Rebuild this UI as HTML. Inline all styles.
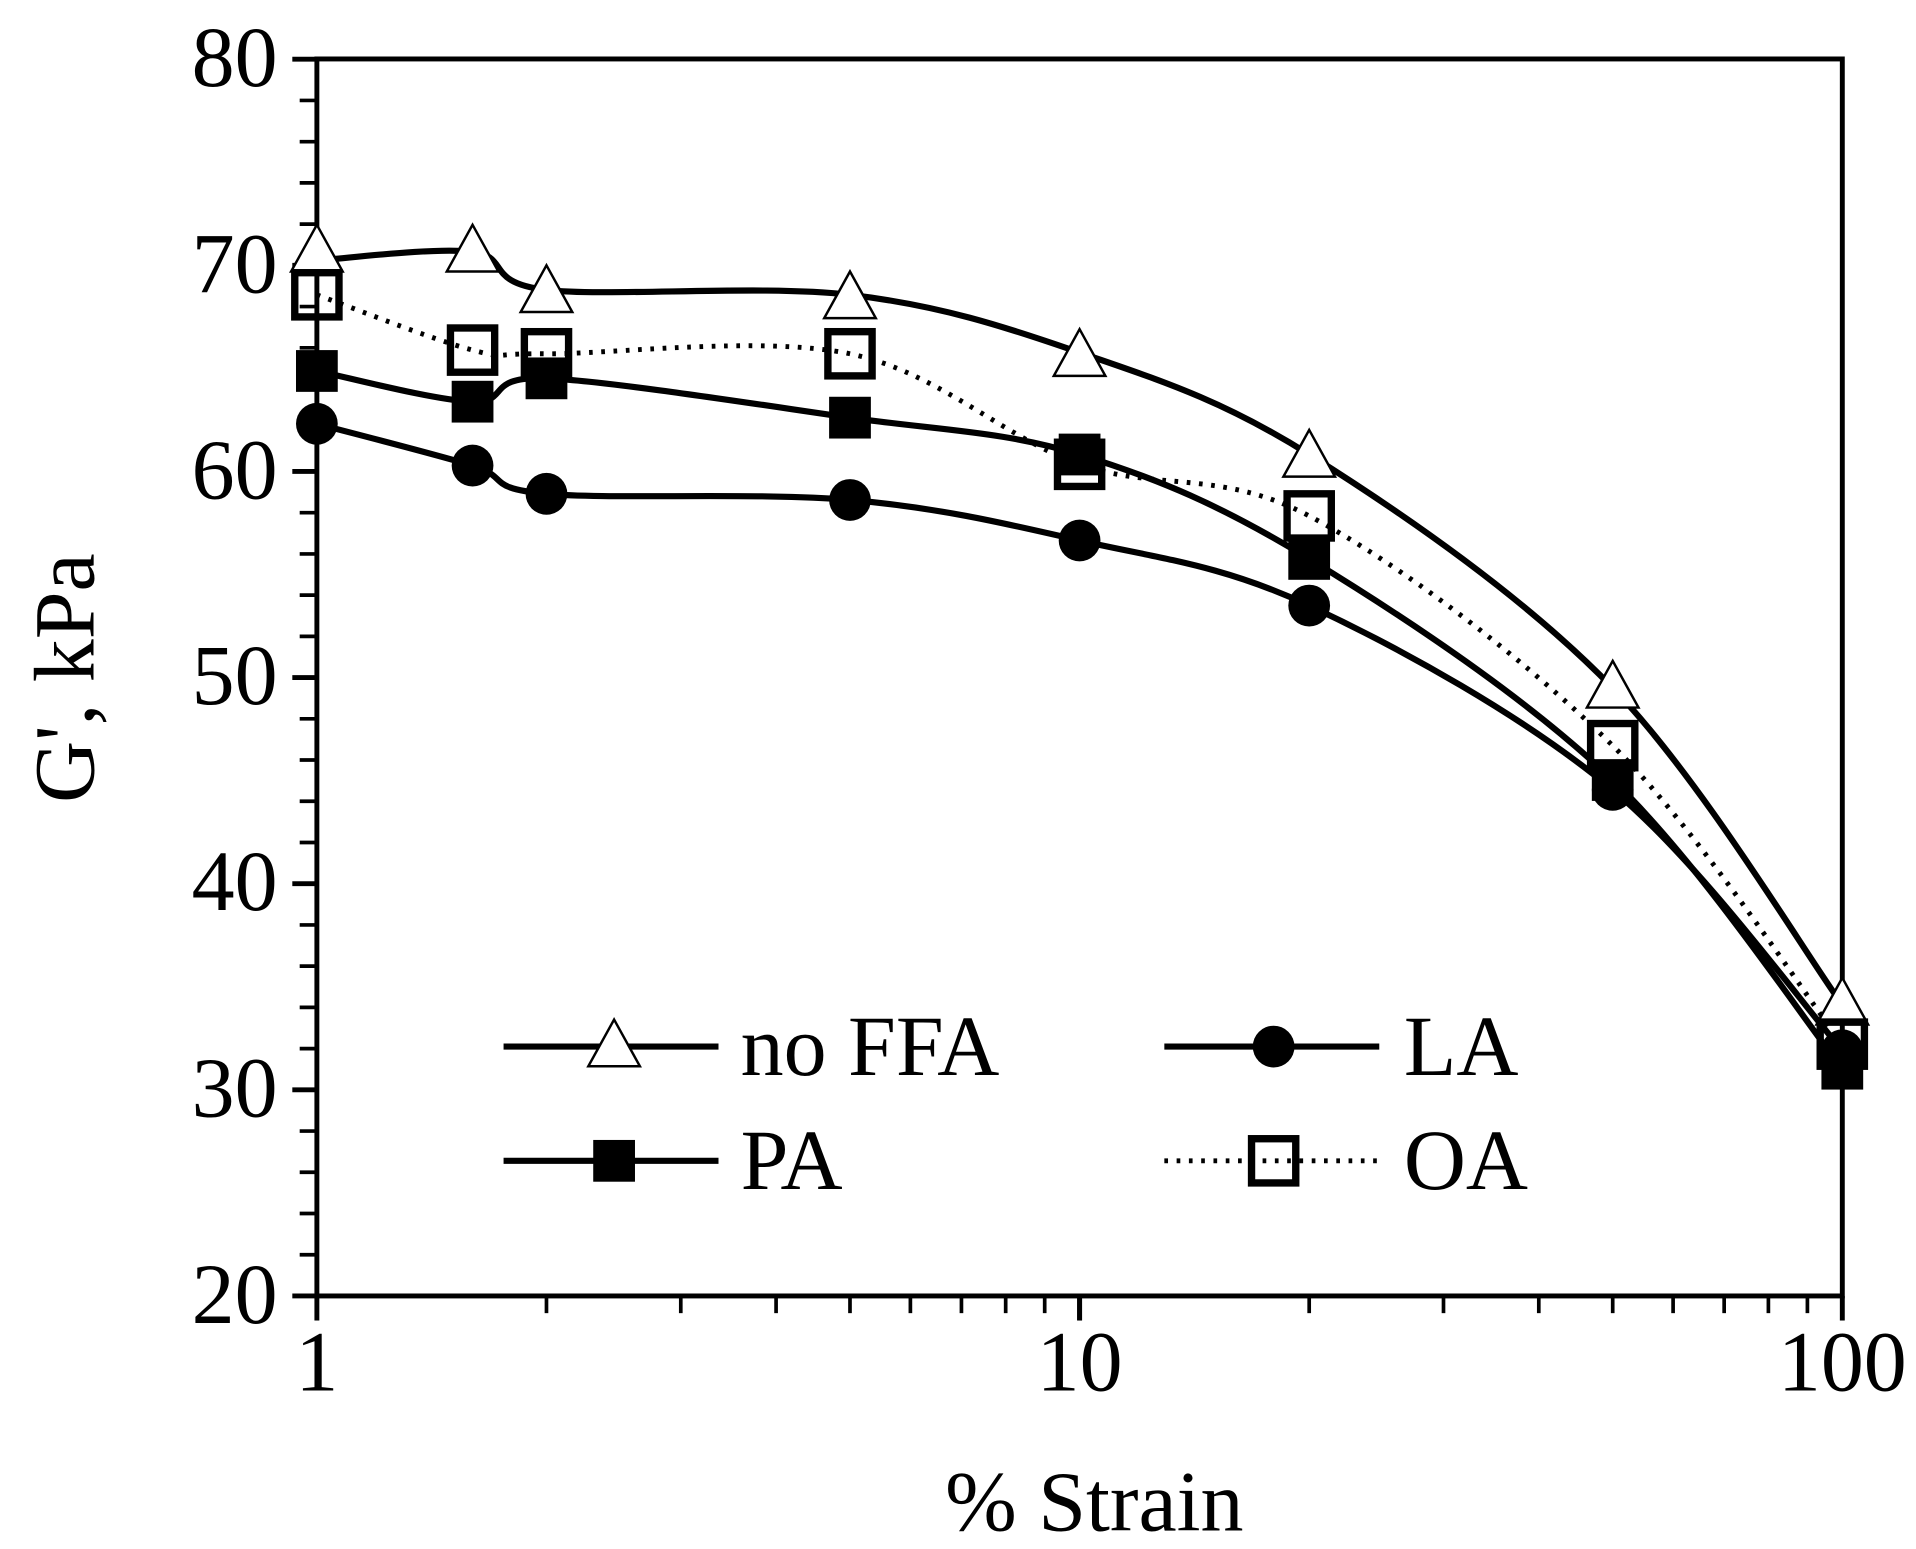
<!DOCTYPE html>
<html><head><meta charset="utf-8"><style>html,body{margin:0;padding:0;background:#fff}svg{display:block}</style></head>
<body>
<svg id="s" width="1916" height="1549" viewBox="0 0 1560 1261" preserveAspectRatio="none" xmlns="http://www.w3.org/2000/svg" style="font-family:'Liberation Serif',serif">
<rect x="0" y="0" width="1560" height="1261" fill="#fff"/>
<g id="axes" stroke="#000" fill="none"></g>
<g id="series"></g>
<g font-size="70" fill="#000" text-anchor="end">
<text x="226" y="70">80</text><text x="226" y="238">70</text><text x="226" y="406">60</text><text x="226" y="573">50</text><text x="226" y="741">40</text><text x="226" y="909">30</text><text x="226" y="1077">20</text>
</g>
<g font-size="70" fill="#000" text-anchor="middle">
<text x="258" y="1132">1</text><text x="879" y="1132">10</text><text x="1500" y="1132">100</text>
<text x="891" y="1246">% Strain</text>
<text transform="translate(76,552) rotate(-90)">G', kPa</text>
</g>
<g font-size="70" fill="#000">
<text x="603" y="875">no FFA</text><text x="1143" y="875">LA</text>
<text x="603" y="968">PA</text><text x="1143" y="968">OA</text>
</g>
</svg>
<script>
var NS="http://www.w3.org/2000/svg";
function el(p,t,a){var e=document.createElementNS(NS,t);for(var k in a)e.setAttribute(k,a[k]);p.appendChild(e);return e;}
var ax=document.getElementById('axes'),sr=document.getElementById('series');
function X(v){return 258+621*Math.log10(v);}
function Y(v){return 1055-(v-20)*16.78;}
el(ax,'rect',{x:258,y:48,width:1242,height:1007,'stroke-width':4});
for(var v=20;v<=80;v+=2){var big=(v%10==0);el(ax,'line',{x1:big?238:244,x2:258,y1:Y(v),y2:Y(v),'stroke-width':big?4:3});}
[1,10].forEach(function(d){for(var i=1;i<=10;i++){var v=d*i;var big=(i==1||i==10);el(ax,'line',{x1:X(v),x2:X(v),y1:1055,y2:big?1075:1069,'stroke-width':big?4:3});}});
var xs=[1,1.6,2,5,10,20,50,100].map(X);
function path(ys){var p=xs.map(function(x,i){return [x,ys[i]];});var d='M'+p[0][0]+','+p[0][1];
for(var i=0;i<p.length-1;i++){var p0=p[Math.max(i-1,0)],p1=p[i],p2=p[i+1],p3=p[Math.min(i+2,p.length-1)];
d+=' C'+(p1[0]+(p2[0]-p0[0])/6)+','+(p1[1]+(p2[1]-p0[1])/6)+' '+(p2[0]-(p3[0]-p1[0])/6)+','+(p2[1]-(p3[1]-p1[1])/6)+' '+p2[0]+','+p2[1];}return d;}
var S={
nf:{ys:[212,205,236,240,287,370,560,818],my:[205,205,238,243,290,372,560,818]},
la:{ys:[345,379,402,407,440,493,643,855]},
pa:{ys:[302,327,308,340,370,455,635,870]},
oa:{ys:[240,285,288,288,378,420,607,850]}};
el(sr,'path',{d:path(S.la.ys),stroke:'#000','stroke-width':5,fill:'none'});
el(sr,'path',{d:path(S.pa.ys),stroke:'#000','stroke-width':5,fill:'none'});
el(sr,'path',{d:path(S.nf.ys),stroke:'#000','stroke-width':5,fill:'none'});
el(sr,'path',{d:path(S.oa.ys),stroke:'#000','stroke-width':4,fill:'none','stroke-dasharray':'3 7'});
function tri(g,x,y){el(g,'path',{d:'M'+x+','+(y-22)+' L'+(x+21)+','+(y+16)+' L'+(x-21)+','+(y+16)+' Z',fill:'#fff',stroke:'#000','stroke-width':2});}
function circ(g,x,y){el(g,'circle',{cx:x,cy:y,r:17,fill:'#000'});}
function sqf(g,x,y){el(g,'rect',{x:x-17,y:y-17,width:34,height:34,fill:'#000'});}
function sqo(g,x,y){el(g,'rect',{x:x-18,y:y-18,width:36,height:36,fill:'none',stroke:'#000','stroke-width':6});}
xs.forEach(function(x,i){tri(sr,x,S.nf.my[i]);});
xs.forEach(function(x,i){circ(sr,x,S.la.ys[i]);});
xs.forEach(function(x,i){sqf(sr,x,S.pa.ys[i]);});
xs.forEach(function(x,i){sqo(sr,x,S.oa.ys[i]);});
el(sr,'line',{x1:410,x2:585,y1:852,y2:852,stroke:'#000','stroke-width':5});tri(sr,500,852);
el(sr,'line',{x1:948,x2:1123,y1:852,y2:852,stroke:'#000','stroke-width':5});circ(sr,1037,852);
el(sr,'line',{x1:410,x2:585,y1:945,y2:945,stroke:'#000','stroke-width':5});sqf(sr,500,945);
el(sr,'line',{x1:948,x2:1123,y1:945,y2:945,stroke:'#000','stroke-width':4,'stroke-dasharray':'3 7'});sqo(sr,1037,945);
</script>
</body></html>
